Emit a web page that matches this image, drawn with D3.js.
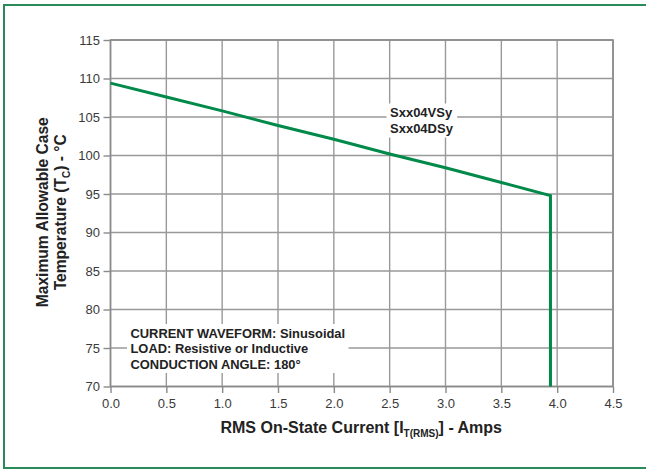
<!DOCTYPE html>
<html><head><meta charset="utf-8">
<script src="https://cdn.jsdelivr.net/npm/d3@7/dist/d3.min.js"></script>
<style>
html,body{margin:0;padding:0;background:#fff;}
svg{display:block;font-family:"Liberation Sans",Arial,Helvetica,sans-serif;}
</style></head>
<body>
<svg id="c" width="646" height="470"></svg>
<script>
// Data
const currentAmps = [0, 0.5, 1.0, 1.5, 2.0, 2.5, 3.0, 3.5, 3.94, 3.94];
const caseTempC   = [109.4, 107.6, 105.8, 103.9, 102.1, 100.2, 98.4, 96.5, 94.8, 70];
const xTicks = [0, 0.5, 1.0, 1.5, 2.0, 2.5, 3.0, 3.5, 4.0, 4.5];
const yTicks = [70, 75, 80, 85, 90, 95, 100, 105, 110, 115];
const deviceLabels = ["Sxx04VSy", "Sxx04DSy"];
const conditionLabels = ["CURRENT WAVEFORM: Sinusoidal", "LOAD: Resistive or Inductive", "CONDUCTION ANGLE: 180°"];

const svg = d3.select("#c");
const m = {left:110.5, right:613, top:40, bottom:386.5};

// outer frame
svg.append("rect").attr("x",4).attr("y",5).attr("width",660).attr("height",463)
  .attr("fill","#fff").attr("stroke","#2a8a5a").attr("stroke-width",2);

const x = d3.scaleLinear().domain([0,4.5]).range([m.left,m.right]);
const y = d3.scaleLinear().domain([70,115]).range([m.bottom,m.top]);

const gridColor = "#999";
svg.append("g").selectAll("line").data(xTicks).join("line")
  .attr("x1",d=>x(d)).attr("x2",d=>x(d)).attr("y1",m.top).attr("y2",m.bottom)
  .attr("stroke",gridColor).attr("stroke-width",1.4);
svg.append("g").selectAll("line").data(yTicks).join("line")
  .attr("y1",d=>y(d)).attr("y2",d=>y(d)).attr("x1",m.left).attr("x2",m.right)
  .attr("stroke",gridColor).attr("stroke-width",1.4);

const xAxis = d3.axisBottom(x).tickValues(xTicks).tickFormat(d3.format(".1f")).tickSize(6.5).tickPadding(6);
const yAxis = d3.axisLeft(y).tickValues(yTicks).tickFormat(d3.format("d")).tickSize(7).tickPadding(3.5);
const gx = svg.append("g").attr("transform",`translate(0,${m.bottom})`).call(xAxis);
const gy = svg.append("g").attr("transform",`translate(${m.left},0)`).call(yAxis);
[gx,gy].forEach(g=>{
  g.select(".domain").remove();
  g.selectAll(".tick line").attr("stroke","#8a8a8a").attr("stroke-width",1.4);
  g.selectAll(".tick text").attr("fill","#3a3a3a").style("font-size","13px").style("font-family","'Liberation Sans',Arial,sans-serif");
});
svg.append("rect").attr("x",m.left).attr("y",m.top).attr("width",m.right-m.left).attr("height",m.bottom-m.top)
  .attr("fill","none").attr("stroke","#8a8a8a").attr("stroke-width",1.6);

function textBlock(lines, x0, yFirst, lh, size){
  const g = svg.append("g");
  const t = g.append("text").attr("font-weight","bold").style("font-size",size+"px").attr("fill","#222");
  lines.forEach((s,i)=>t.append("tspan").attr("x",x0).attr("y",yFirst+i*lh).text(s));
  const bb = t.node().getBBox();
  g.insert("rect","text").attr("x",bb.x-3.5).attr("y",bb.y-1.5).attr("width",bb.width+7).attr("height",bb.height+3).attr("fill","#fff");
}
textBlock(deviceLabels, 390, 117, 16, 13);
textBlock(conditionLabels, 130.5, 337.5, 15.5, 12.9);

const pts = currentAmps.map((c,i)=>[c, caseTempC[i]]);
svg.append("path").datum(pts)
  .attr("d", d3.line().x(d=>x(d[0])).y(d=>y(d[1])))
  .attr("fill","none").attr("stroke","#008a4a").attr("stroke-width",3).attr("stroke-linejoin","miter");

const xt = svg.append("text").attr("x",(m.left+m.right)/2-0.5).attr("y",433).attr("text-anchor","middle")
  .attr("font-weight","bold").style("font-size","16px").attr("fill","#222");
xt.append("tspan").text("RMS On-State Current [I");
xt.append("tspan").text("T(RMS)").style("font-size","10px").attr("dy",4);
xt.append("tspan").text("] - Amps").attr("dy",-4);

const cy = (m.top+m.bottom)/2 - 1;
svg.append("text").attr("transform",`translate(47.5,${cy}) rotate(-90)`).attr("text-anchor","middle")
  .attr("font-weight","bold").style("font-size","15.6px").attr("fill","#222").text("Maximum Allowable Case");
const yt2 = svg.append("text").attr("transform",`translate(65.5,${cy}) rotate(-90)`).attr("text-anchor","middle")
  .attr("font-weight","bold").style("font-size","15.6px").attr("fill","#222");
yt2.append("tspan").text("Temperature (T");
yt2.append("tspan").text("C").style("font-size","10px").attr("dy",4);
yt2.append("tspan").text(") - °C").attr("dy",-4);
</script>
</body></html>
